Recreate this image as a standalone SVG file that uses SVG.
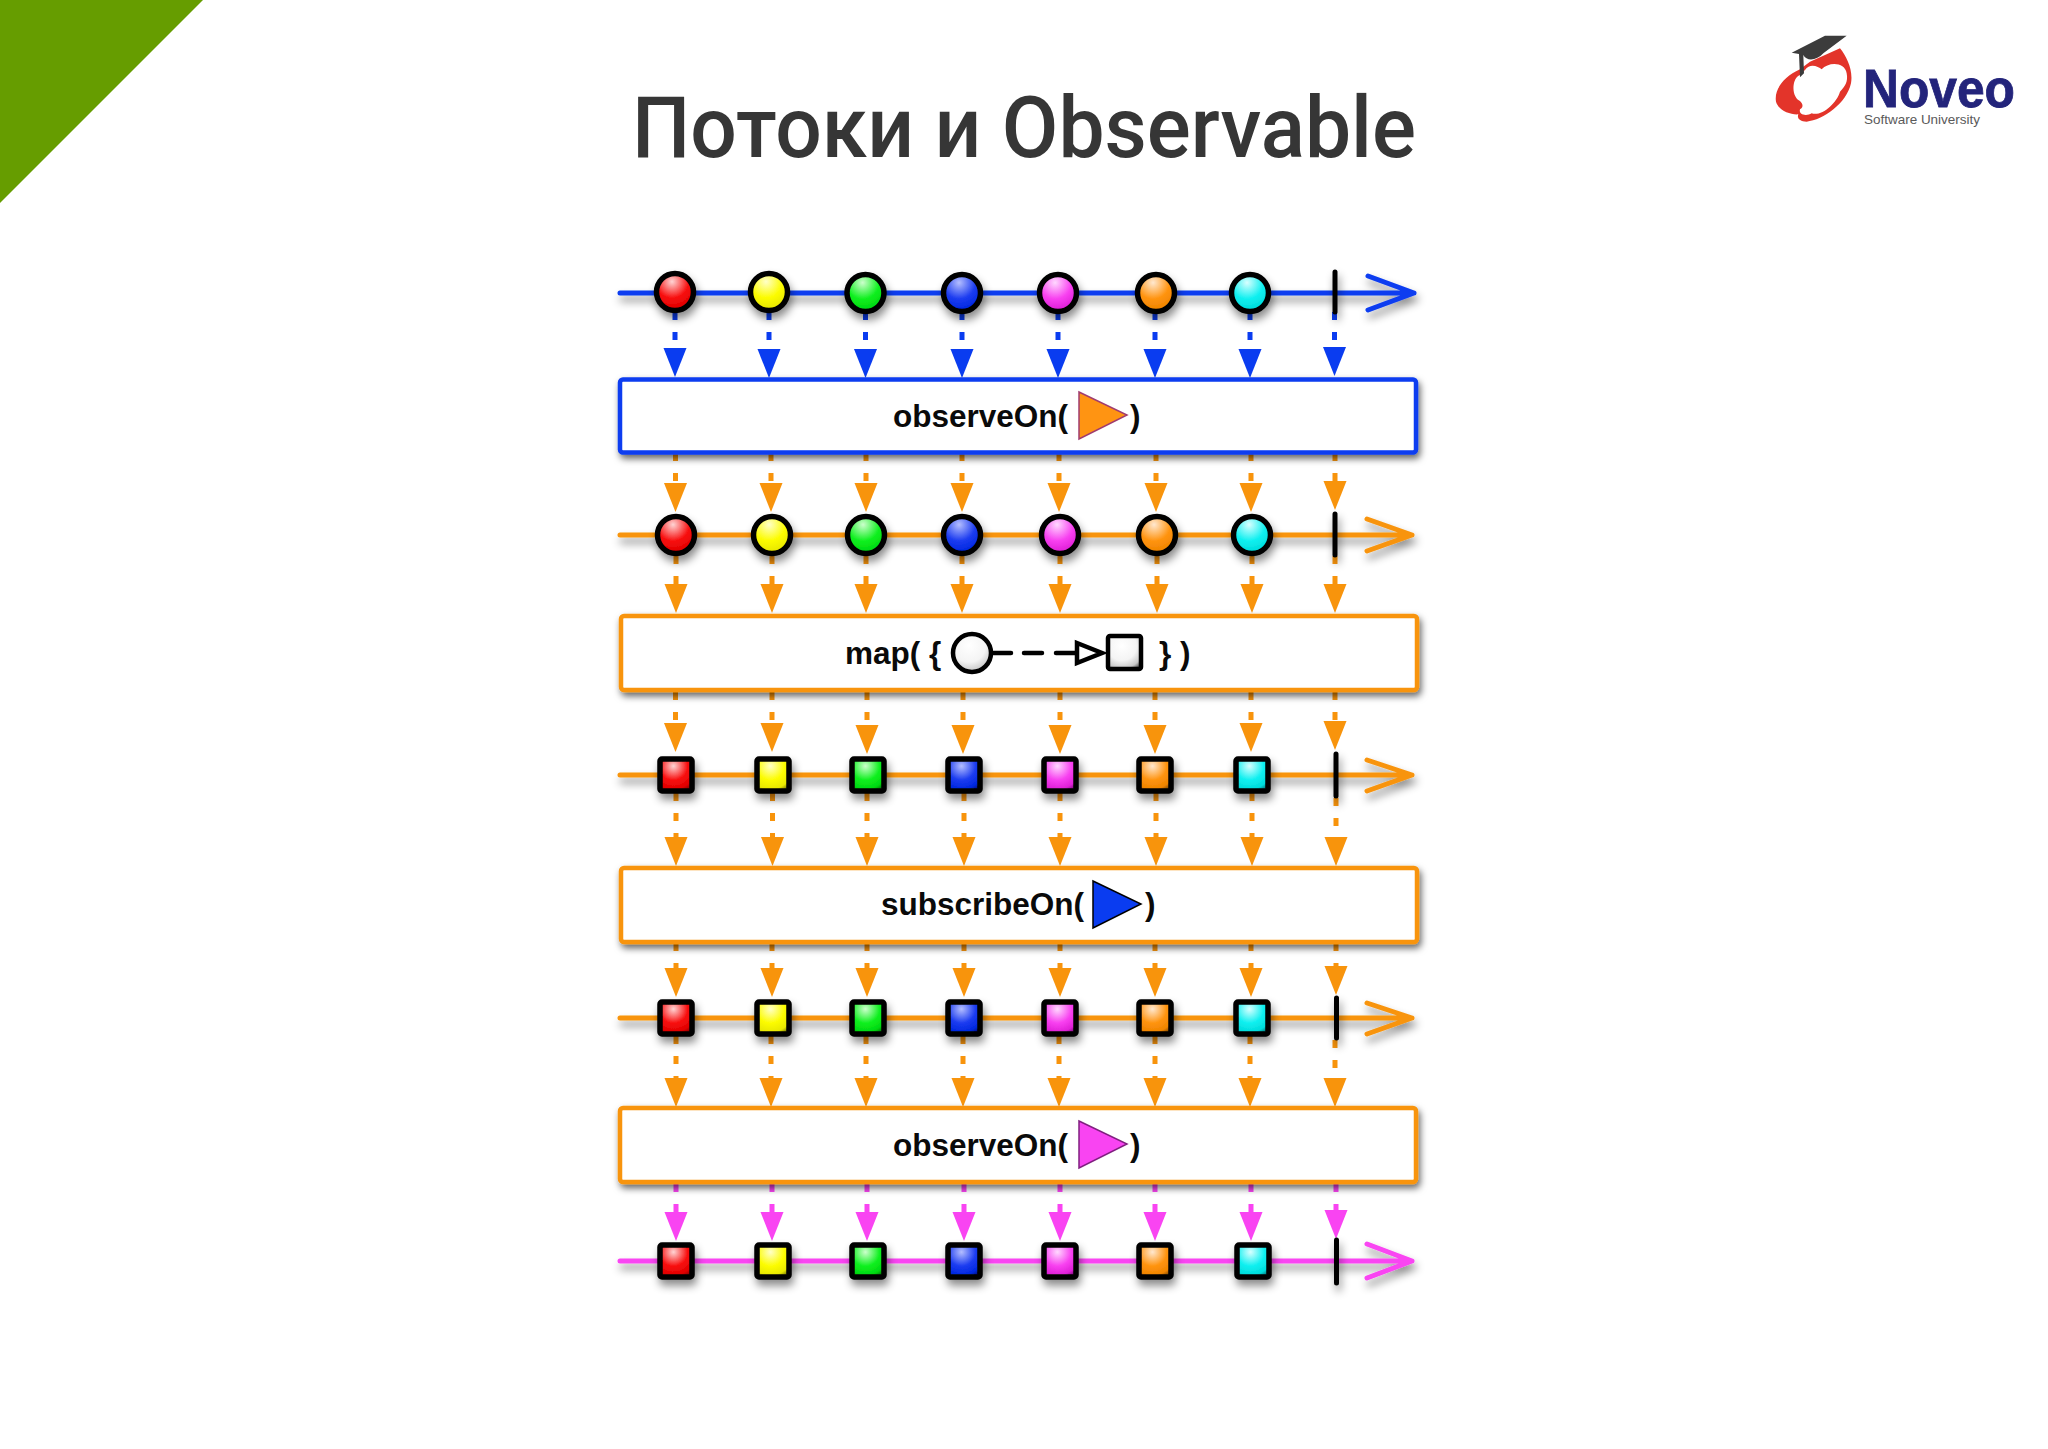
<svg xmlns="http://www.w3.org/2000/svg" width="2048" height="1449" viewBox="0 0 2048 1449">
<style>
.title{font-family:Roboto,"Noto Sans",sans-serif;font-weight:500;font-size:85px;fill:#363636}
.lbl{font-family:"Liberation Sans",Arial,sans-serif;font-weight:700;font-size:31.5px;fill:#0a0a0a}
.box{fill:#fff;stroke-width:4.5}
.line{fill:none;stroke-width:5;stroke-linecap:round;stroke-linejoin:round}
.dash{fill:none;stroke-width:5;stroke-dasharray:8 12}
.m{stroke:#000;stroke-width:5.5}
.tick{stroke:#000;stroke-width:5;stroke-linecap:round}
.B{stroke:#0a3cf0}.O{stroke:#f8940c}.M{stroke:#f944f2}
</style>
<defs>
<filter id="sh" x="-10%" y="-50%" width="120%" height="220%"><feDropShadow dx="2" dy="6" stdDeviation="4.5" flood-color="#000" flood-opacity=".45"/></filter>
<filter id="shb" x="-5%" y="-20%" width="110%" height="140%"><feDropShadow dx="2" dy="4" stdDeviation="3.5" flood-color="#000" flood-opacity=".6"/></filter>
<marker id="aB" markerUnits="userSpaceOnUse" markerWidth="24" markerHeight="30" viewBox="0 0 24 30" refX="12" refY="0" orient="0"><path d="M.5 0H23.500L12 29Z" fill="#0a3cf0"/></marker>
<marker id="aO" markerUnits="userSpaceOnUse" markerWidth="24" markerHeight="30" viewBox="0 0 24 30" refX="12" refY="0" orient="0"><path d="M.5 0H23.500L12 29Z" fill="#f8940c"/></marker>
<marker id="aM" markerUnits="userSpaceOnUse" markerWidth="24" markerHeight="30" viewBox="0 0 24 30" refX="12" refY="0" orient="0"><path d="M.5 0H23.500L12 29Z" fill="#f944f2"/></marker>
<radialGradient id="red" cx=".42" cy=".22" r=".88"><stop offset="0" stop-color="#ffd4d4"/><stop offset=".5" stop-color="#f81010"/><stop offset=".82" stop-color="#e00000"/><stop offset="1" stop-color="#780000"/></radialGradient>
<radialGradient id="yel" cx=".42" cy=".22" r=".88"><stop offset="0" stop-color="#ffffc8"/><stop offset=".5" stop-color="#fcfc00"/><stop offset=".82" stop-color="#e8e800"/><stop offset="1" stop-color="#707000"/></radialGradient>
<radialGradient id="grn" cx=".42" cy=".22" r=".88"><stop offset="0" stop-color="#ccffcc"/><stop offset=".5" stop-color="#10f020"/><stop offset=".82" stop-color="#00d810"/><stop offset="1" stop-color="#006808"/></radialGradient>
<radialGradient id="blu" cx=".42" cy=".22" r=".88"><stop offset="0" stop-color="#b4beff"/><stop offset=".5" stop-color="#1c3cf0"/><stop offset=".82" stop-color="#0028e0"/><stop offset="1" stop-color="#001070"/></radialGradient>
<radialGradient id="mag" cx=".42" cy=".22" r=".88"><stop offset="0" stop-color="#ffd8ff"/><stop offset=".5" stop-color="#f840f0"/><stop offset=".82" stop-color="#e020d8"/><stop offset="1" stop-color="#701070"/></radialGradient>
<radialGradient id="org" cx=".42" cy=".22" r=".88"><stop offset="0" stop-color="#ffe8d0"/><stop offset=".5" stop-color="#ff9410"/><stop offset=".82" stop-color="#f08400"/><stop offset="1" stop-color="#704000"/></radialGradient>
<radialGradient id="cya" cx=".42" cy=".22" r=".88"><stop offset="0" stop-color="#d8ffff"/><stop offset=".5" stop-color="#10f0f0"/><stop offset=".82" stop-color="#00dcdc"/><stop offset="1" stop-color="#006c70"/></radialGradient>
<radialGradient id="wht" cx=".42" cy=".3" r=".8"><stop offset="0" stop-color="#fff"/><stop offset=".55" stop-color="#f4f4f4"/><stop offset=".85" stop-color="#c8c8c8"/><stop offset="1" stop-color="#606060"/></radialGradient>
</defs>
<rect width="2048" height="1449" fill="#fff"/>
<path id="corner" d="M0 0H203L0 203Z" fill="#669d00"/>
<text class="title" x="632" y="157" textLength="784" lengthAdjust="spacingAndGlyphs">Потоки и Observable</text>
<g id="logo">
<g transform="translate(1750 20) scale(.3333)">
<path d="M150 148C100 170 72 210 78 245C85 270 120 285 145 283C140 295 150 305 170 305C220 300 290 250 303 190C310 150 290 110 270 85L180 125Z" fill="#e3342a"/>
<path d="M165 150C180 128 205 140 215 148C235 125 285 125 290 160C295 185 285 200 270 215C260 250 215 290 185 280C170 290 145 285 150 268C165 260 155 245 145 240C125 225 125 175 150 165Z" fill="#fff"/>
<path d="M125 98L225 47H290L220 100C200 122 170 125 160 105L162 160L150 172L147 102Z" fill="#3c3c3c"/>
</g>
<text x="1863" y="107" font-family="Liberation Sans,Arial,sans-serif" font-weight="700" font-size="53" fill="#23247b" stroke="#23247b" stroke-width=".8" textLength="152" lengthAdjust="spacingAndGlyphs">Noveo</text>
<text x="1864" y="124" font-family="Liberation Sans,Arial,sans-serif" font-size="13" fill="#5a5a5a" textLength="116" lengthAdjust="spacingAndGlyphs">Software University</text>
</g>
<g id="connectors">
<g id="dashes-1" class="dash B">
<line x1="675" y1="312" x2="675" y2="348" marker-end="url(#aB)"/><line x1="769" y1="312" x2="769" y2="349" marker-end="url(#aB)"/><line x1="865.500" y1="312" x2="865.500" y2="349" marker-end="url(#aB)"/><line x1="962" y1="312" x2="962" y2="349" marker-end="url(#aB)"/><line x1="1058" y1="312" x2="1058" y2="349" marker-end="url(#aB)"/><line x1="1155" y1="312" x2="1155" y2="349" marker-end="url(#aB)"/><line x1="1250" y1="312" x2="1250" y2="349" marker-end="url(#aB)"/><line x1="1334.500" y1="312" x2="1334.500" y2="347" marker-end="url(#aB)"/>
</g>
<g id="dashes-2" class="dash O">
<line x1="675.500" y1="453" x2="675.500" y2="483" marker-end="url(#aO)"/><line x1="771" y1="453" x2="771" y2="483" marker-end="url(#aO)"/><line x1="866" y1="453" x2="866" y2="483" marker-end="url(#aO)"/><line x1="962" y1="453" x2="962" y2="483" marker-end="url(#aO)"/><line x1="1059" y1="453" x2="1059" y2="483" marker-end="url(#aO)"/><line x1="1156" y1="453" x2="1156" y2="483" marker-end="url(#aO)"/><line x1="1251" y1="453" x2="1251" y2="483" marker-end="url(#aO)"/><line x1="1335" y1="453" x2="1335" y2="481" marker-end="url(#aO)"/>
</g>
<g id="dashes-3" class="dash O">
<line x1="676" y1="556" x2="676" y2="584" marker-end="url(#aO)"/><line x1="772" y1="556" x2="772" y2="584" marker-end="url(#aO)"/><line x1="866" y1="556" x2="866" y2="584" marker-end="url(#aO)"/><line x1="962" y1="556" x2="962" y2="584" marker-end="url(#aO)"/><line x1="1060" y1="556" x2="1060" y2="584" marker-end="url(#aO)"/><line x1="1157" y1="556" x2="1157" y2="584" marker-end="url(#aO)"/><line x1="1252" y1="556" x2="1252" y2="584" marker-end="url(#aO)"/><line x1="1335" y1="556" x2="1335" y2="584" marker-end="url(#aO)"/>
</g>
<g id="dashes-4" class="dash O">
<line x1="675.500" y1="692" x2="675.500" y2="723" marker-end="url(#aO)"/><line x1="772" y1="692" x2="772" y2="723" marker-end="url(#aO)"/><line x1="867" y1="692" x2="867" y2="725" marker-end="url(#aO)"/><line x1="963" y1="692" x2="963" y2="725" marker-end="url(#aO)"/><line x1="1060" y1="692" x2="1060" y2="725" marker-end="url(#aO)"/><line x1="1155" y1="692" x2="1155" y2="725" marker-end="url(#aO)"/><line x1="1251" y1="692" x2="1251" y2="723" marker-end="url(#aO)"/><line x1="1335" y1="692" x2="1335" y2="721" marker-end="url(#aO)"/>
</g>
<g id="dashes-5" class="dash O">
<line x1="676" y1="793" x2="676" y2="837" marker-end="url(#aO)"/><line x1="772.500" y1="793" x2="772.500" y2="837" marker-end="url(#aO)"/><line x1="867" y1="793" x2="867" y2="837" marker-end="url(#aO)"/><line x1="964" y1="793" x2="964" y2="837" marker-end="url(#aO)"/><line x1="1060" y1="793" x2="1060" y2="837" marker-end="url(#aO)"/><line x1="1156" y1="793" x2="1156" y2="837" marker-end="url(#aO)"/><line x1="1252" y1="793" x2="1252" y2="837" marker-end="url(#aO)"/><line x1="1336" y1="798" x2="1336" y2="837" marker-end="url(#aO)"/>
</g>
<g id="dashes-6" class="dash O">
<line x1="676" y1="943" x2="676" y2="968" marker-end="url(#aO)"/><line x1="772" y1="943" x2="772" y2="968" marker-end="url(#aO)"/><line x1="867" y1="943" x2="867" y2="968" marker-end="url(#aO)"/><line x1="964" y1="943" x2="964" y2="968" marker-end="url(#aO)"/><line x1="1060" y1="943" x2="1060" y2="968" marker-end="url(#aO)"/><line x1="1155" y1="943" x2="1155" y2="968" marker-end="url(#aO)"/><line x1="1251" y1="943" x2="1251" y2="968" marker-end="url(#aO)"/><line x1="1336" y1="943" x2="1336" y2="966" marker-end="url(#aO)"/>
</g>
<g id="dashes-7" class="dash O">
<line x1="676" y1="1036" x2="676" y2="1078" marker-end="url(#aO)"/><line x1="771" y1="1036" x2="771" y2="1078" marker-end="url(#aO)"/><line x1="866" y1="1036" x2="866" y2="1078" marker-end="url(#aO)"/><line x1="963" y1="1036" x2="963" y2="1078" marker-end="url(#aO)"/><line x1="1059" y1="1036" x2="1059" y2="1078" marker-end="url(#aO)"/><line x1="1155" y1="1036" x2="1155" y2="1078" marker-end="url(#aO)"/><line x1="1250" y1="1036" x2="1250" y2="1078" marker-end="url(#aO)"/><line x1="1335" y1="1040" x2="1335" y2="1078" marker-end="url(#aO)"/>
</g>
<g id="dashes-8" class="dash M">
<line x1="676" y1="1184" x2="676" y2="1212" marker-end="url(#aM)"/><line x1="772" y1="1184" x2="772" y2="1212" marker-end="url(#aM)"/><line x1="867" y1="1184" x2="867" y2="1212" marker-end="url(#aM)"/><line x1="964" y1="1184" x2="964" y2="1212" marker-end="url(#aM)"/><line x1="1060" y1="1184" x2="1060" y2="1212" marker-end="url(#aM)"/><line x1="1155" y1="1184" x2="1155" y2="1212" marker-end="url(#aM)"/><line x1="1251" y1="1184" x2="1251" y2="1212" marker-end="url(#aM)"/><line x1="1336" y1="1184" x2="1336" y2="1210" marker-end="url(#aM)"/>
</g>
<g id="timelines" filter="url(#sh)">
<path class="line B" d="M620 293H1414M1368 276L1414 293L1368 310"/>
<path class="line O" d="M620 535H1412M1367 519L1412 535L1367 551"/>
<path class="line O" d="M620 775H1412M1367 760L1412 775L1367 791"/>
<path class="line O" d="M620 1018H1412M1367 1003L1412 1018L1367 1034"/>
<path class="line M" d="M620 1261H1412M1367 1244L1412 1261L1367 1278"/>
</g>
</g>
<g id="box-observeOn-1"><rect class="box B" x="620" y="379.500" width="796" height="73" rx="3" filter="url(#shb)"/>
<text class="lbl" x="893" y="427">observeOn(</text>
<path d="M1079 392L1127 415L1079 439Z" fill="#ff9412" stroke="#a03c70" stroke-width="1.500"/>
<text class="lbl" x="1130" y="427">)</text></g>
<g id="box-map"><rect class="box O" x="621" y="616" width="796" height="74" rx="3" filter="url(#shb)"/>
<text class="lbl" x="845" y="664">map( {</text>
<circle cx="972" cy="653" r="19" fill="url(#wht)" stroke="#000" stroke-width="4.500"/>
<path d="M992 653H1011M1024 653H1042M1056 653H1077" fill="none" stroke="#000" stroke-width="4.500" stroke-linecap="round"/>
<path d="M1077 643L1102 653L1077 663Z" fill="#fff" stroke="#000" stroke-width="4.500"/>
<rect x="1108" y="636" width="33" height="33" rx="2" fill="url(#wht)" stroke="#000" stroke-width="4.500"/>
<text class="lbl" x="1159" y="664">} )</text></g>
<g id="box-subscribeOn"><rect class="box O" x="621" y="868" width="796" height="74" rx="3" filter="url(#shb)"/>
<text class="lbl" x="881" y="915">subscribeOn(</text>
<path d="M1093 881L1141 904L1093 928Z" fill="#0a3cf0" stroke="#000" stroke-width="1.500"/>
<text class="lbl" x="1145" y="915">)</text></g>
<g id="box-observeOn-2"><rect class="box O" x="620" y="1108" width="796" height="74" rx="3" filter="url(#shb)"/>
<text class="lbl" x="893" y="1156">observeOn(</text>
<path d="M1079 1121L1127 1144L1079 1168Z" fill="#f944f2" stroke="#802080" stroke-width="1.500"/>
<text class="lbl" x="1130" y="1156">)</text></g>
<g id="row-1" filter="url(#sh)">
<g id="r1-1"><circle class="m" cx="675" cy="292" r="18.500" fill="url(#red)"/></g>
<g id="r1-2"><circle class="m" cx="769" cy="292" r="18.500" fill="url(#yel)"/></g>
<g id="r1-3"><circle class="m" cx="865.500" cy="293" r="18.500" fill="url(#grn)"/></g>
<g id="r1-4"><circle class="m" cx="962" cy="293" r="18.500" fill="url(#blu)"/></g>
<g id="r1-5"><circle class="m" cx="1058" cy="293" r="18.500" fill="url(#mag)"/></g>
<g id="r1-6"><circle class="m" cx="1156" cy="293" r="18.500" fill="url(#org)"/></g>
<g id="r1-7"><circle class="m" cx="1250" cy="293" r="18.500" fill="url(#cya)"/></g>
<line id="r1-end" class="tick" x1="1335" y1="272" x2="1335" y2="312"/>
</g>
<g id="row-2" filter="url(#sh)">
<g id="r2-1"><circle class="m" cx="676" cy="535" r="18.500" fill="url(#red)"/></g>
<g id="r2-2"><circle class="m" cx="772" cy="535" r="18.500" fill="url(#yel)"/></g>
<g id="r2-3"><circle class="m" cx="866" cy="535" r="18.500" fill="url(#grn)"/></g>
<g id="r2-4"><circle class="m" cx="962" cy="535" r="18.500" fill="url(#blu)"/></g>
<g id="r2-5"><circle class="m" cx="1060" cy="535" r="18.500" fill="url(#mag)"/></g>
<g id="r2-6"><circle class="m" cx="1157" cy="535" r="18.500" fill="url(#org)"/></g>
<g id="r2-7"><circle class="m" cx="1252" cy="535" r="18.500" fill="url(#cya)"/></g>
<line id="r2-end" class="tick" x1="1335" y1="514" x2="1335" y2="555"/>
</g>
<g id="row-3" filter="url(#sh)">
<g id="r3-1"><rect class="m" x="660" y="759" width="32" height="32" rx="2" fill="url(#red)"/></g>
<g id="r3-2"><rect class="m" x="757" y="759" width="32" height="32" rx="2" fill="url(#yel)"/></g>
<g id="r3-3"><rect class="m" x="852" y="759" width="32" height="32" rx="2" fill="url(#grn)"/></g>
<g id="r3-4"><rect class="m" x="948" y="759" width="32" height="32" rx="2" fill="url(#blu)"/></g>
<g id="r3-5"><rect class="m" x="1044" y="759" width="32" height="32" rx="2" fill="url(#mag)"/></g>
<g id="r3-6"><rect class="m" x="1139" y="759" width="32" height="32" rx="2" fill="url(#org)"/></g>
<g id="r3-7"><rect class="m" x="1236" y="759" width="32" height="32" rx="2" fill="url(#cya)"/></g>
<line id="r3-end" class="tick" x1="1336" y1="754" x2="1336" y2="796"/>
</g>
<g id="row-4" filter="url(#sh)">
<g id="r4-1"><rect class="m" x="660" y="1002" width="32" height="32" rx="2" fill="url(#red)"/></g>
<g id="r4-2"><rect class="m" x="757" y="1002" width="32" height="32" rx="2" fill="url(#yel)"/></g>
<g id="r4-3"><rect class="m" x="852" y="1002" width="32" height="32" rx="2" fill="url(#grn)"/></g>
<g id="r4-4"><rect class="m" x="948" y="1002" width="32" height="32" rx="2" fill="url(#blu)"/></g>
<g id="r4-5"><rect class="m" x="1044" y="1002" width="32" height="32" rx="2" fill="url(#mag)"/></g>
<g id="r4-6"><rect class="m" x="1139" y="1002" width="32" height="32" rx="2" fill="url(#org)"/></g>
<g id="r4-7"><rect class="m" x="1236" y="1002" width="32" height="32" rx="2" fill="url(#cya)"/></g>
<line id="r4-end" class="tick" x1="1336.500" y1="998" x2="1336.500" y2="1038"/>
</g>
<g id="row-5" filter="url(#sh)">
<g id="r5-1"><rect class="m" x="660" y="1245" width="32" height="32" rx="2" fill="url(#red)"/></g>
<g id="r5-2"><rect class="m" x="757" y="1245" width="32" height="32" rx="2" fill="url(#yel)"/></g>
<g id="r5-3"><rect class="m" x="852" y="1245" width="32" height="32" rx="2" fill="url(#grn)"/></g>
<g id="r5-4"><rect class="m" x="948" y="1245" width="32" height="32" rx="2" fill="url(#blu)"/></g>
<g id="r5-5"><rect class="m" x="1044" y="1245" width="32" height="32" rx="2" fill="url(#mag)"/></g>
<g id="r5-6"><rect class="m" x="1139" y="1245" width="32" height="32" rx="2" fill="url(#org)"/></g>
<g id="r5-7"><rect class="m" x="1237" y="1245" width="32" height="32" rx="2" fill="url(#cya)"/></g>
<line id="r5-end" class="tick" x1="1336.500" y1="1240" x2="1336.500" y2="1283"/>
</g>
</svg>
